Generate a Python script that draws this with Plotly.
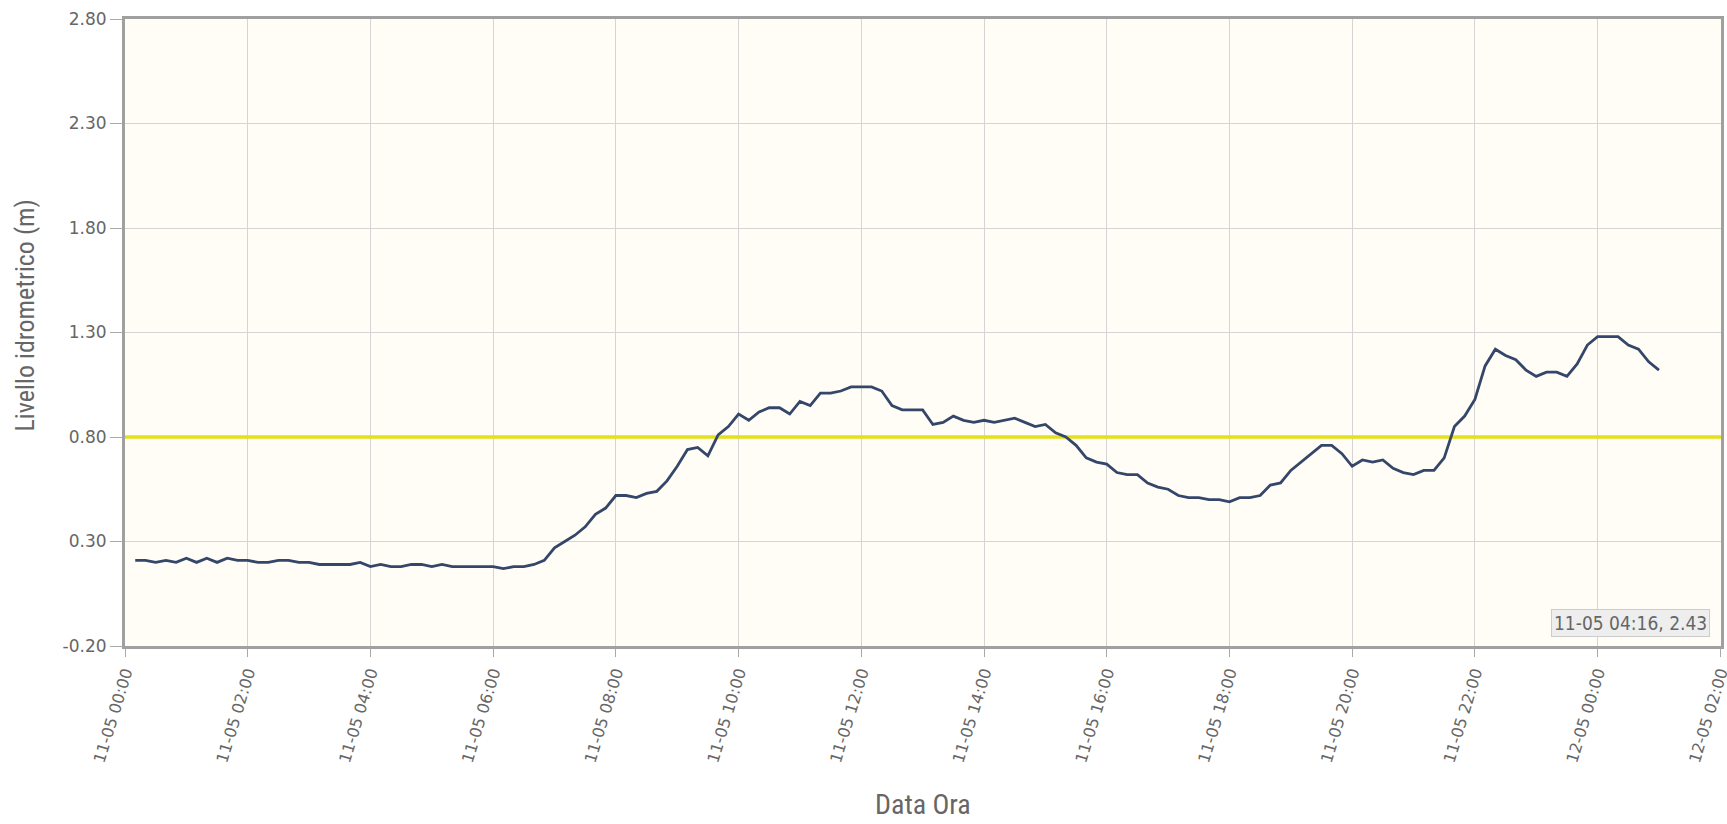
import plotly.graph_objects as go
import pandas as pd

# Water level readings every 10 minutes, from 11-05 00:10 to 12-05 01:00
start_time = "2016-05-11 00:10"
step_minutes = 10
levels = [
    0.21, 0.21, 0.20, 0.21, 0.20, 0.22, 0.20, 0.22, 0.20, 0.22, 0.21, 0.21,   # 00:10-02:00
    0.20, 0.20, 0.21, 0.21, 0.20, 0.20, 0.19, 0.19, 0.19, 0.19, 0.20, 0.18,   # 02:10-04:00
    0.19, 0.18, 0.18, 0.19, 0.19, 0.18, 0.19, 0.18, 0.18, 0.18, 0.18, 0.18,   # 04:10-06:00
    0.17, 0.18, 0.18, 0.19, 0.21, 0.27, 0.30, 0.33, 0.37, 0.43, 0.46, 0.52,   # 06:10-08:00
    0.52, 0.51, 0.53, 0.54, 0.59, 0.66, 0.74, 0.75, 0.71, 0.81, 0.85, 0.91,   # 08:10-10:00
    0.88, 0.92, 0.94, 0.94, 0.91, 0.97, 0.95, 1.01, 1.01, 1.02, 1.04, 1.04,   # 10:10-12:00
    1.04, 1.02, 0.95, 0.93, 0.93, 0.93, 0.86, 0.87, 0.90, 0.88, 0.87, 0.88,   # 12:10-14:00
    0.87, 0.88, 0.89, 0.87, 0.85, 0.86, 0.82, 0.80, 0.76, 0.70, 0.68, 0.67,   # 14:10-16:00
    0.63, 0.62, 0.62, 0.58, 0.56, 0.55, 0.52, 0.51, 0.51, 0.50, 0.50, 0.49,   # 16:10-18:00
    0.51, 0.51, 0.52, 0.57, 0.58, 0.64, 0.68, 0.72, 0.76, 0.76, 0.72, 0.66,   # 18:10-20:00
    0.69, 0.68, 0.69, 0.65, 0.63, 0.62, 0.64, 0.64, 0.70, 0.85, 0.90, 0.98,   # 20:10-22:00
    1.14, 1.22, 1.19, 1.17, 1.12, 1.09, 1.11, 1.11, 1.09, 1.15, 1.24, 1.28,   # 22:10-00:00
    1.28, 1.28, 1.24, 1.22, 1.16, 1.12,                                       # 00:10-01:00
]
times = pd.date_range(start=start_time, periods=len(levels), freq=f"{step_minutes}min")

threshold_value = 0.80
x_range = ["2016-05-11 00:00", "2016-05-12 02:00:40"]
x_tickvals = pd.date_range(start="2016-05-11 00:00", end="2016-05-12 02:00", freq="2h")
x_ticktext = [t.strftime("%d-%m %H:%M") for t in x_tickvals]
y_tickvals = [-0.20, 0.30, 0.80, 1.30, 1.80, 2.30, 2.80]
y_ticktext = ["-0.20", "0.30", "0.80", "1.30", "1.80", "2.30", "2.80"]

title_text = "Bisano Idice da 11-05-2016 00:00 a 12-05-2016 00:00"
y_title = "Livello idrometrico (m)"
x_title = "Data Ora"
tooltip_text = "11-05 04:16, 2.43"

W, H = 1727, 824
L, R, T, B = 125, 6, 19, 178
PW, PH = W - L - R, H - T - B

fig = go.Figure()
fig.add_trace(go.Scatter(
    x=x_range, y=[threshold_value, threshold_value], mode="lines",
    line=dict(color="#e5df1c", width=3.5), hoverinfo="skip", showlegend=False,
))
fig.add_trace(go.Scatter(
    x=times, y=levels, mode="lines",
    line=dict(color="#34476a", width=2.8), showlegend=False,
))

narrow = "Liberation Sans Narrow, Roboto Condensed, Arial Narrow, sans-serif"

fig.update_layout(
    width=W, height=H,
    margin=dict(l=L, r=R, t=T, b=B),
    paper_bgcolor="white",
    plot_bgcolor="#fffdf5",
    xaxis=dict(
        type="date", range=x_range, automargin=False,
        tickvals=x_tickvals, ticktext=x_ticktext, tickangle=-73,
        ticklabeloverflow="allow",
        tickfont=dict(family="DejaVu Sans, Verdana, sans-serif", size=16, color="#666666"),
        showgrid=True, gridcolor="#d4d4d4", gridwidth=1,
        ticks="outside", ticklen=8, tickcolor="#aaaaaa",
        showline=True, linecolor="#a0a0a0", linewidth=3, mirror=True,
        zeroline=False,
    ),
    yaxis=dict(
        range=[-0.20, 2.80], automargin=False,
        tickvals=y_tickvals, ticktext=y_ticktext,
        tickfont=dict(family="DejaVu Sans, Verdana, sans-serif", size=17, color="#666666"),
        showgrid=True, gridcolor="#d4d4d4", gridwidth=1,
        ticks="outside", ticklen=12, tickcolor="#aaaaaa",
        showline=True, linecolor="#a0a0a0", linewidth=3, mirror=True,
        zeroline=False,
    ),
    annotations=[
        dict(text=title_text, xref="paper", yref="paper",
             x=(860 - L) / PW, y=1 + (T + 9) / PH,
             xanchor="center", yanchor="middle", showarrow=False,
             font=dict(family="DejaVu Sans, Verdana, sans-serif", size=22, color="#555555")),
        dict(text=y_title, xref="paper", yref="paper",
             x=(24 - L) / PW, y=(646.5 - 316) / PH, textangle=-90,
             xanchor="center", yanchor="middle", showarrow=False,
             font=dict(family=narrow, size=26, color="#666666")),
        dict(text=x_title, xref="paper", yref="paper",
             x=(923 - L) / PW, y=(646.5 - 805) / PH,
             xanchor="center", yanchor="middle", showarrow=False,
             font=dict(family=narrow, size=28, color="#666666")),
        dict(text=tooltip_text, xref="paper", yref="paper",
             x=(1710 - L) / PW, y=(646.5 - 637) / PH,
             xanchor="right", yanchor="bottom", showarrow=False,
             bgcolor="#eeeeee", bordercolor="#cccccc", borderwidth=1, borderpad=2,
             font=dict(family="DejaVu Sans Condensed, Liberation Sans Narrow, sans-serif",
                       size=19, color="#666666")),
    ],
)

fig.write_html(
    "out.html",
    config={"displayModeBar": False},
    post_script="document.body.style.margin='0px';document.body.style.overflow='hidden';",
)
